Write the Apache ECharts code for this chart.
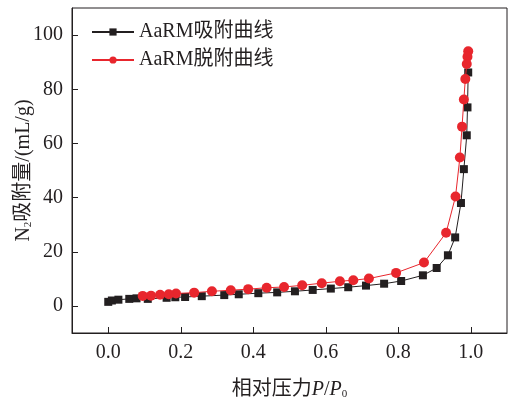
<!DOCTYPE html>
<html>
<head>
<meta charset="utf-8">
<script src="https://cdn.jsdelivr.net/npm/echarts@6/dist/echarts.min.js"></script>
<style>
  html, body { margin: 0; padding: 0; background: #fff; }
  #chart { width: 509px; height: 397px; }
</style>
</head>
<body>
<div id="chart"></div>
<script>
// Nitrogen adsorption / desorption isotherm of AaRM
const seriesNames = ['AaRM吸附曲线', 'AaRM脱附曲线'];

// Adsorption branch: relative pressure and uptake (mL/g)
const adsP = [0.0, 0.01, 0.028, 0.058, 0.078, 0.109, 0.161, 0.185, 0.212, 0.258, 0.32, 0.36, 0.414, 0.466, 0.515, 0.564, 0.614, 0.662, 0.711, 0.761, 0.808, 0.868, 0.906, 0.937, 0.957, 0.973, 0.981, 0.989, 0.991, 0.993];
const adsV = [1.5, 2.0, 2.3, 2.6, 2.8, 2.6, 3.0, 3.2, 3.3, 3.6, 4.0, 4.3, 4.7, 5.0, 5.4, 5.9, 6.4, 6.9, 7.5, 8.2, 9.2, 11.3, 14.0, 18.7, 25.3, 38.0, 50.5, 63.0, 73.3, 86.2];

// Desorption branch, in measurement order (high to low pressure)
const desP = [0.993, 0.991, 0.989, 0.985, 0.981, 0.976, 0.970, 0.958, 0.932, 0.871, 0.794, 0.719, 0.676, 0.639, 0.589, 0.535, 0.485, 0.437, 0.386, 0.338, 0.286, 0.237, 0.187, 0.167, 0.143, 0.118, 0.095];
const desV = [94.0, 92.0, 89.3, 83.8, 76.2, 66.2, 54.8, 40.4, 27.0, 16.0, 12.2, 10.1, 9.5, 9.1, 8.4, 7.6, 7.0, 6.7, 6.2, 5.8, 5.4, 4.9, 4.6, 4.3, 4.1, 3.8, 3.7];

// Tick positions
const xTicks = [0, 0.2, 0.4, 0.6, 0.8, 1.0];
const yTicks = [0, 20, 40, 60, 80, 100];

const FONT = '"Liberation Serif", "Times New Roman", "Noto Sans CJK SC", serif';
const INK = '#231f20';
const RED = '#e8262d';

const zip = (a, b) => a.map((v, i) => [v, b[i]]);

const chart = echarts.init(document.getElementById('chart'), null, { renderer: 'canvas' });
chart.setOption({
  animation: false,
  backgroundColor: '#fff',
  grid: {
    left: 72, right: 2, top: 8, bottom: 64,
    containLabel: false, outerBoundsMode: 'none',
    show: true, borderColor: INK, borderWidth: 1
  },
  legend: {
    orient: 'vertical',
    left: 91, top: 22, padding: 0,
    itemWidth: 42, itemHeight: 9, itemGap: 8,
    data: seriesNames,
    textStyle: { fontFamily: FONT, fontSize: 20, color: INK }
  },
  xAxis: {
    type: 'value',
    min: -0.1, max: 1.1,
    splitLine: { show: false },
    axisLine: { onZero: false, lineStyle: { color: INK, width: 1 } },
    axisTick: { inside: true, length: 6, customValues: xTicks, lineStyle: { color: INK } },
    axisLabel: {
      customValues: xTicks, margin: 10,
      fontFamily: FONT, fontSize: 20, color: INK,
      formatter: v => v.toFixed(1)
    },
    name: '相对压力{i|P}/{i|P}{sub|0}',
    nameLocation: 'middle', nameGap: 46, nameMoveOverlap: false,
    nameTextStyle: {
      fontFamily: FONT, fontSize: 20, color: INK,
      rich: {
        i: { fontFamily: FONT, fontStyle: 'italic', fontSize: 20, color: INK },
        sub: { fontFamily: FONT, fontSize: 11, color: INK, padding: [10, 0, 0, 0] }
      }
    }
  },
  yAxis: {
    type: 'value',
    min: -10, max: 110,
    splitLine: { show: false },
    axisLine: { show: true, onZero: false, lineStyle: { color: INK, width: 1 } },
    axisTick: { show: true, inside: true, length: 6, customValues: yTicks, lineStyle: { color: INK } },
    axisLabel: {
      customValues: yTicks, margin: 9,
      fontFamily: FONT, fontSize: 20, color: INK
    },
    name: 'N{sub|2}吸附量/(mL/g)',
    nameLocation: 'middle', nameGap: 38, nameRotate: 90, nameMoveOverlap: false,
    nameTextStyle: {
      fontFamily: FONT, fontSize: 20, color: INK,
      rich: {
        sub: { fontFamily: FONT, fontSize: 11, color: INK, padding: [10, 0, 0, 0] }
      }
    }
  },
  series: [
    {
      name: seriesNames[0],
      type: 'line',
      data: zip(adsP, adsV),
      symbol: 'rect', symbolSize: 8,
      itemStyle: { color: INK },
      lineStyle: { color: INK, width: 1 },
      z: 2
    },
    {
      name: seriesNames[1],
      type: 'line',
      data: zip(desP, desV),
      symbol: 'circle', symbolSize: 10,
      itemStyle: { color: RED },
      lineStyle: { color: RED, width: 1 },
      z: 3
    }
  ]
});
</script>
</body>
</html>
